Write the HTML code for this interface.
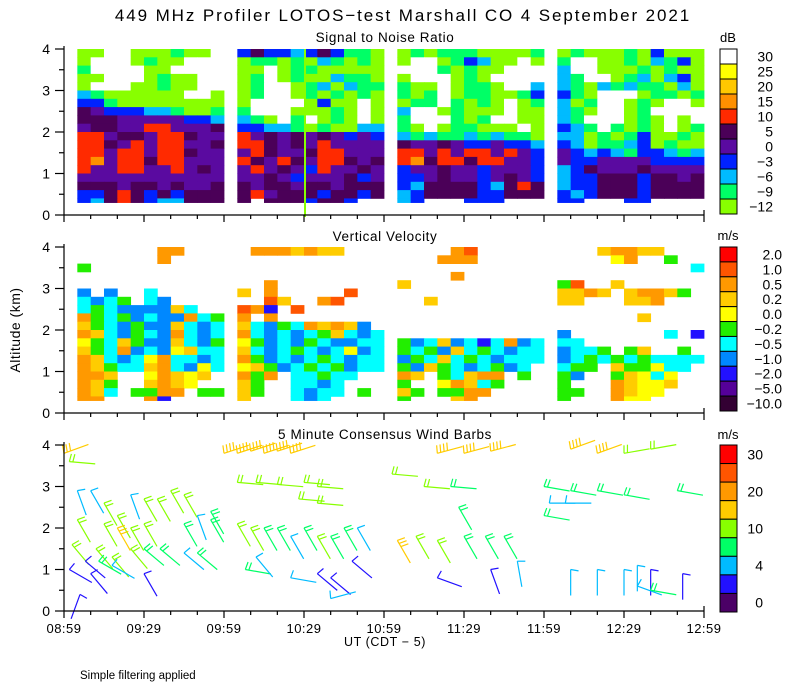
<!DOCTYPE html>
<html><head><meta charset="utf-8">
<style>
html,body{margin:0;padding:0;background:#fff;}
svg{display:block;font-family:"Liberation Sans",sans-serif;}
</style></head>
<body>
<svg id="chart" width="800" height="700" viewBox="0 0 800 700">
<text x="403" y="21" font-size="17" text-anchor="middle" letter-spacing="1.9">449 MHz Profiler LOTOS−test Marshall CO  4 September 2021</text>
<text x="385" y="42" font-size="13.5" text-anchor="middle" letter-spacing="0.6">Signal to Noise Ratio</text>
<text x="385" y="241" font-size="13.5" text-anchor="middle" letter-spacing="0.6">Vertical Velocity</text>
<text x="385" y="439" font-size="13.5" text-anchor="middle" letter-spacing="0.6">5 Minute Consensus Wind Barbs</text>
<text x="20" y="330" font-size="14" text-anchor="middle" letter-spacing="0.5" transform="rotate(-90 20 330)">Altitude (km)</text>
<text x="385" y="646" font-size="12.5" text-anchor="middle" letter-spacing="0.6">UT  (CDT − 5)</text>
<text x="80" y="679" font-size="11.5">Simple filtering applied</text>
<text x="728" y="42" font-size="13" text-anchor="middle">dB</text>
<text x="728" y="240" font-size="13" text-anchor="middle">m/s</text>
<text x="728" y="439" font-size="13" text-anchor="middle">m/s</text>
<g id="layer"></g>
</svg>
<script>
// ---- axis data ----
const xTickLabels = ["08:59","09:29","09:59","10:29","10:59","11:29","11:59","12:29","12:59"];
const yTickLabels = ["0","1","2","3","4"];
const segStarts = [5, 65, 125, 185]; // minutes after 08:59
// ---- SNR colorbar ----
const snrLabels = ["30","25","20","15","10","5","0","−3","−6","−9","−12"];
const snrColors = ["#ffffff","#ffff00","#ffc800","#ff9000","#ff2a00","#4b0058","#5a0aa0","#0022ff","#00bbff","#00ff66","#88ff00"];
const snrCodes = "wyoOrpqbcgl";
// ---- VV colorbar ----
const vvLabels = ["2.0","1.0","0.5","0.2","0.0","−0.2","−0.5","−1.0","−2.0","−5.0","−10.0"];
const vvColors = ["#ff0000","#ff5500","#ff9900","#ffcc00","#ffff00","#22ee00","#00ffff","#0088ff","#2211ff","#550099","#330033"];
const vvCodes = "ROoaygcbBpP";
// ---- wind colorbar ----
const windColors = ["#ff0000","#ff5500","#ff9900","#ffcc00","#88ff00","#00ff66","#00bbff","#2211ff","#4b0066"];
const windLabels = ["30","","20","","10","","4","","0"];
// ---- SNR grid: rows from 4.0 km down, 0.2 km each; 11 cols of 5 min per segment ----
const snrSeg1 = ["llwwlllgllw","lwwwlgllwww","gwwwwllwwww","llwwwlgllww","lwwwllgllww","cgllllllwwl","bbgllllllll","pqbbbccgllg","pppqqqqqbbc","qppqqrrqqqp","rrqppqrrpqq","rrpqrqrrqqp","rrqrrqrrpqq","rOqrrprrqqq","rqqrrqqrqpq","qqqqqqqqqqq","pppqppqpqqp","bbprpbpbppp","bcprpbccppp"];
const snrSeg2 = ["bpbbcbpbggl","lgglglcglgl","llwlgglllll","lgwlgllcggl","lgwwlgclcgg","lgwwlglglgl","lwwwwlbllwl","gwwwlllglwl","cglwgwlglwl","bbccglgllcc","rqpqpqpqbqb","rrpqpqrqqqq","qrpqqprrqqq","rpqrpqrrpqp","qrqpqbrqqpq","qqpqbqqqpbq","pqppqppqppp","prqpppbppbp","p.pppbppb.."];
const snrSeg3 = ["lglgggllllg","lwwlgbcllwl","wwwglgllwww","lwwwlglwwww","gllwlgglwwc","glgwlggllgb","lggwglglwlg","cwwlglllwll","gwwwglgwwll","glwlgglllwl","cgcggcgcggl","pqqpqbbqbbc","rrqrqrrqrqb","rOprrprrqqb","bqqpqqbqqqb","bbqpqqbqpqb","bcppppbcprp","cbppppbbppp","cb...bbb..."];
const snrSeg4 = ["lglllglblll","gwwllglcgbl","cwwlllglgll","cgwwlgclcbl","cglcgcgglcl","bglwwwlgglg","clgwwlglwwl","cglwwlgwwww","cgwwwlglwlw","bcgwglglwlg","cclglgbllgl","bclggcblgll","qbcbcgbbcgc","qbbqqqqbbbb","cbpqqqpqqqq","cbbpppbppqp","cbbpppbpppp","bcbpppbpppp","bb...bb...."];
// ---- Vertical velocity grid ----
const vvSeg1 = ["......oo...","......o....","g..........","...........","...........","b.b..c.....","cbcg.cb....","cgcbbbbac..","ogcgbcbbocg","agcbgbbacbc","oacbgcbocbc","ygcagbbacbg","agcobcbyacc","oacbcyoccbc","oagccaocbyc","ooa..yoaya.","oag..aoay..","oac.ggoo.gg","oo...oB...."];
const vvSeg2 = [".oooaoaa...","...........","...........","...........","..o........","a.o.....O..","..Oa..oO...","OoB.O......","o.o........","acbgcoaoab.","ocbcbcgacbc","ygbcbgcbbcc","acbcgcbcybc","ogbcbcgcbcc","yagbcgcgbcc","ogo.ccgcc..","ag..ccbc...","ag..cbcc.g.","a...cbc...."];
const vvSeg3 = ["....oO.....","...ooo.....","...........","....o......","a..........","...........","..a........","...........","...........","...........","...........","gbcabcBcobc","gcgbacgcbcc","bgcacgcbccc","gbagcbcgbc.","oa.gcaoo.g.","g..yoacg...","ag.ggoo....","g...ao....."];
const vvSeg4 = ["...aooaa...","....yo..g..","..........c","...........","gO..a......","aaoa.aooag.","aa...aao...","...........","......a....","...........","b.......c.B","cc.........","bccg.ga..g.","bcgcgcgcccc","cgg.aggycc.","gb..gaycy..","g...oayya..","gg..oayy...","g...oyy...."];
// ---- wind barbs: time (min after 08:59), altitude km, speed m/s, direction deg ----
const barbT = [0,2,5,10,15,20,25,30,35,40,45,50,55,5,15,20,25,30,45,55,3,12,18,25,30,36,45,50,2,8,10,30,13,18,6,
 60,65,70,75,80,85,65,72,80,90,95,88,95,65,70,75,80,85,90,95,100,105,110,68,85,95,100,100,108,72,
 140,150,160,123,135,145,125,132,140,150,158,165,140,160,170,148,
 190,200,210,220,180,190,200,210,230,182,188,180,190,200,210,215,220,232,215,220];
const barbZ = [3.8,3.6,2.9,2.9,2.6,2.3,2.8,2.7,2.7,2.9,2.8,2.3,2.4,2.2,2.1,2.0,2.0,2.1,2.1,2.2,1.6,1.5,1.3,1.5,1.5,1.5,1.4,1.4,1.0,1.2,0.9,0.9,1.2,1.1,0.4,
 3.8,3.8,3.85,3.8,3.85,3.8,3.1,3.1,3.05,3.1,3.0,2.7,2.6,2.1,2.0,2.0,2.0,1.8,2.0,1.8,1.8,2.0,2.0,1.0,0.8,0.9,0.8,0.3,1.2,1.3,
 3.8,3.8,3.85,3.3,3.0,3.0,1.7,1.8,1.7,1.8,1.8,1.8,0.8,1.0,1.2,2.5,
 3.9,3.8,3.8,3.9,3.0,2.9,2.9,2.8,2.9,2.6,2.6,2.3,1.0,1.0,1.0,1.1,1.0,0.9,0.6,0.5];
const barbS = [17,10,5,5,10,11,5,11,11,11,11,5,8,11,11,16,11,11,8,8,11,11,11,11,8,8,5,8,3,3,2,2,8,5,3,
 18,18,18,18,18,18,11,11,11,11,11,11,11,11,11,8,8,5,8,11,8,8,5,8,5,3,3,5,3,5,
 18,18,18,11,11,8,16,11,11,8,8,8,3,3,5,8,
 18,18,11,11,8,8,8,8,8,5,5,8,5,5,5,5,3,3,5,8];
const barbD = [70,95,160,150,150,150,160,150,150,150,150,160,150,150,150,150,150,150,150,150,140,140,140,140,130,130,130,130,120,130,140,150,120,120,200,
 72,72,72,72,72,72,95,95,95,95,95,95,95,150,150,150,150,150,150,150,150,150,150,100,100,130,130,75,130,140,
 75,75,75,95,95,95,150,150,150,150,150,150,110,160,170,150,
 70,70,80,80,100,100,100,100,100,90,90,100,180,180,180,180,180,180,110,100];

const NS = "http://www.w3.org/2000/svg";
const layer = document.getElementById('layer');
function mk(tag, attrs, parent){const e=document.createElementNS(NS,tag);for(const k in attrs)e.setAttribute(k,attrs[k]);(parent||layer).appendChild(e);return e;}
const X0=64, PXMIN=80/30;
function xOf(t){return X0+t*PXMIN;}
const panels=[{bot:215,top:49,name:'snr'},{bot:413,top:247,name:'vv'},{bot:611,top:445,name:'wind'}];
function yOf(p,z){return p.bot-(p.bot-p.top)*z/4;}

// heatmaps
function drawGrid(p, segs, codes, colors, name){
  const g=mk('g',{});
  
  
  segs.forEach((rows,si)=>{
    rows.forEach((row,ri)=>{
      const zTop=4-0.2*ri, zBot=Math.max(zTop-0.2,0.3);
      for(let ci=0;ci<row.length;ci++){
        const k=codes.indexOf(row[ci]); if(k<0)continue;
        const t0=segStarts[si]+ci*5;
        const x=xOf(t0), w=xOf(t0+5)-x;
        const y=yOf(p,zTop), h=yOf(p,zBot)-y;
        const r=mk('rect',{x:x.toFixed(2),y:y.toFixed(2),width:(w+0.4).toFixed(2),height:(h+0.4).toFixed(2),fill:colors[k]},g);
        
        
      }
    });
  });
}
drawGrid(panels[0],[snrSeg1,snrSeg2,snrSeg3,snrSeg4],snrCodes,snrColors,'snr');
drawGrid(panels[1],[vvSeg1,vvSeg2,vvSeg3,vvSeg4],vvCodes,vvColors,'vv');
// glitch line in SNR
const gl=mk('line',{x1:305,y1:49,x2:305,y2:217,stroke:'#88ff00','stroke-width':2});



// wind barbs
function speedColor(s){
  if(s<2)return windColors[8]; if(s<4)return windColors[7]; if(s<7)return windColors[6];
  if(s<10)return windColors[5]; if(s<15)return windColors[4]; if(s<20)return windColors[3];
  if(s<25)return windColors[2]; if(s<30)return windColors[1]; return windColors[0];
}
barbT.forEach((t,i)=>{
  const p=panels[2];
  const x=xOf(t), y=yOf(p,barbZ[i]);
  const d=barbD[i]*Math.PI/180, L=26;
  const ux=Math.sin(d), uy=-Math.cos(d);
  const ex=x+L*ux, ey=y+L*uy;
  const col=speedColor(barbS[i]);
  const g=mk('g',{stroke:col,'stroke-width':1.2,fill:'none'});
  
  
  mk('line',{x1:x,y1:y,x2:ex,y2:ey},g);
  const n=Math.max(1,Math.round(barbS[i]/5));
  const a=d-80*Math.PI/180; const bx=Math.sin(a), by=-Math.cos(a);
  for(let k=0;k<n;k++){
    const sx=x+ux*3.5*k, sy=y+uy*3.5*k;
    mk('line',{x1:sx,y1:sy,x2:sx+bx*8,y2:sy+by*8},g);
  }
});

// axes
panels.forEach((p,pi)=>{
  const g=mk('g',{stroke:'#000','stroke-width':1.2});
  
  
  mk('line',{x1:X0,y1:p.top-3,x2:X0,y2:p.bot},g);
  mk('line',{x1:X0,y1:p.bot,x2:704,y2:p.bot},g);
  mk('line',{x1:704,y1:p.bot,x2:704,y2:p.bot-5},g);
  for(let z=0;z<=4;z+=0.5){
    const y=yOf(p,z), len=(z%1===0)?9:5;
    mk('line',{x1:X0-len,y1:y,x2:X0,y2:y},g);
  }
  for(let t=0;t<=240;t+=10){
    const x=xOf(t), len=(t%30===0)?7:4;
    mk('line',{x1:x,y1:p.bot,x2:x,y2:p.bot+len},g);
  }
  yTickLabels.forEach((lab,k)=>{
    const tx=mk('text',{x:50,y:yOf(p,k)+5,'font-size':14,'text-anchor':'end',stroke:'none'});
    tx.textContent=lab;
    
    
  });
});
xTickLabels.forEach((lab,k)=>{
  const tx=mk('text',{x:xOf(k*30),y:633,'font-size':13,'text-anchor':'middle','letter-spacing':0.5});
  tx.textContent=lab;
  
  
});

// colorbars
function colorbar(top,bot,colors,labels,name,xr){
  const n=colors.length, h=(bot-top)/n;
  colors.forEach((c,k)=>{
    const r=mk('rect',{x:720,y:top+k*h,width:17,height:h,fill:c,stroke:'#000','stroke-width':1});
    
    
    if(labels[k]){
      const tx=mk('text',{x:xr,y:top+k*h+h/2+5,'font-size':14,'text-anchor':'end'});
      tx.textContent=labels[k];
      
      
    }
  });
}
colorbar(49,214,snrColors,snrLabels,'snr-colorbar',773);
colorbar(247,411,vvColors,vvLabels,'vv-colorbar',782);
colorbar(445,612,windColors,windLabels,'wind-colorbar',763);
</script>
</body></html>
